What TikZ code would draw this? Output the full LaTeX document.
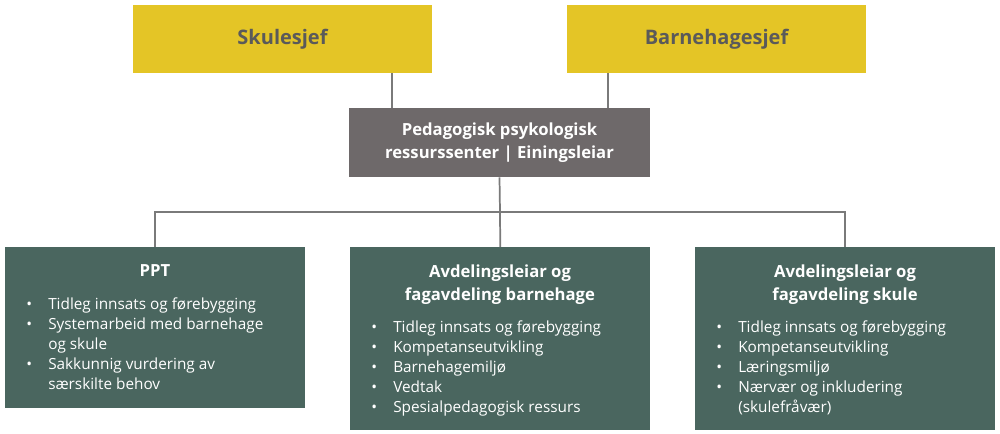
\documentclass[tikz,border=0pt]{standalone}
\usepackage{fontspec}
\setmainfont{Open Sans}
\definecolor{yel}{HTML}{E4C526}
\definecolor{gry}{HTML}{6E696A}
\definecolor{teal}{HTML}{4A665F}
\definecolor{ln}{HTML}{7A7A7A}
\definecolor{tx}{HTML}{5A5A5A}
\newcommand{\bl}[1]{\textbullet&#1\\}
\newcommand{\lst}[1]{\setlength{\tabcolsep}{0pt}\renewcommand{\arraystretch}{1.0}\begin{tabular}{@{}p{22\myu}@{}l@{}}#1\end{tabular}}
\newlength{\myu}\setlength{\myu}{0.75pt}
\begin{document}
\begin{tikzpicture}[x=0.75pt,y=-0.75pt,
  top/.style={fill=yel,minimum width=299\myu,minimum height=68\myu,font=\fontsize{15}{18}\selectfont\bfseries,text=tx},
  mid/.style={fill=gry,minimum width=301\myu,minimum height=69\myu,font=\fontsize{12.5}{17}\selectfont\bfseries,text=white,align=center},
  card/.style={fill=teal,anchor=north west,minimum width=300\myu},
  ttl/.style={font=\fontsize{12.5}{17}\selectfont\bfseries,text=white,align=center,anchor=north},
  bul/.style={font=\fontsize{11.5}{15}\selectfont,text=white,anchor=north west,inner sep=0pt},
  con/.style={draw=ln,line width=1.3pt}]
\useasboundingbox (0,0) rectangle (1000,434);
\node[top] (s) at (282.5,39) {Skulesjef};
\node[top] (b) at (716.5,39) {Barnehagesjef};
\node[mid] (c) at (499.5,142.5) {Pedagogisk psykologisk\\ressurssenter | Einingsleiar};
\node[card,minimum height=161\myu] (p) at (5,247) {};
\node[card,minimum height=183\myu] (m) at (350,247) {};
\node[card,minimum height=183\myu] (r) at (695,247) {};
\coordinate (j) at (500,212);
\draw[con] (s.south -| 392,0) -- (c.north -| 392,0);
\draw[con] (b.south -| 608,0) -- (c.north -| 608,0);
\draw[con] (c.south) -- (j);
\draw[con] (p.north -| 155,0) |- (j) -| (r.north -| 845,0);
\draw[con] (j) -- (m.north);
\node[ttl] (pt) at (155,260) {PPT};
\node[ttl] (mt) at (500,260) {Avdelingsleiar og\\fagavdeling barnehage};
\node[ttl] (rt) at (845,260) {Avdelingsleiar og\\fagavdeling skule};
\node[bul] (pb) at (26,295) {\lst{\bl{Tidleg innsats og førebygging}\bl{Systemarbeid med barnehage}&og skule\\\bl{Sakkunnig vurdering av}&særskilte behov\\}};
\node[bul] (mb) at (371,318) {\lst{\bl{Tidleg innsats og førebygging}\bl{Kompetanseutvikling}\bl{Barnehagemiljø}\bl{Vedtak}\bl{Spesialpedagogisk ressurs}}};
\node[bul] (rb) at (716,318) {\lst{\bl{Tidleg innsats og førebygging}\bl{Kompetanseutvikling}\bl{Læringsmiljø}\bl{Nærvær og inkludering}&(skulefråvær)\\}};
\end{tikzpicture}
\end{document}
